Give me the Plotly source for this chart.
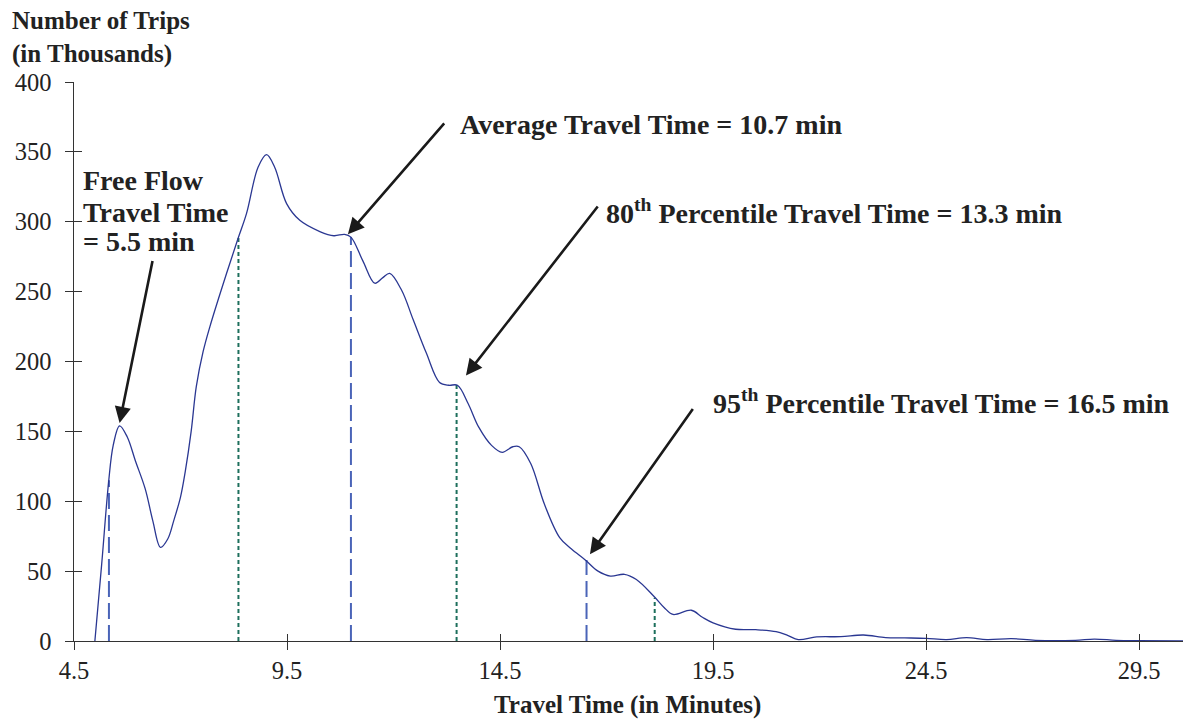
import plotly.graph_objects as go

# ---- data ----
travel_time = [4.99, 5.15, 5.31, 5.42, 5.57, 5.75, 5.94, 6.17, 6.35, 6.53, 6.7, 6.84, 7.0, 7.11,
               7.25, 7.37, 7.53, 7.69, 8.08, 8.35, 8.55, 8.82, 9.02, 9.21, 9.49, 9.8, 10.27,
               10.6, 10.85, 11.0, 11.28, 11.56, 11.75, 11.91, 12.19, 12.46, 12.77, 13.08, 13.3,
               13.5, 13.75, 14.0, 14.3, 14.55, 14.8, 14.95, 15.22, 15.54, 15.9, 16.17, 16.5,
               16.8, 17.09, 17.42, 17.7, 18.11, 18.35, 18.56, 18.99, 19.25, 19.5, 20.03, 20.5,
               20.98, 21.25, 21.5, 21.93, 22.5, 23.03, 23.55, 24.0, 24.5, 24.98, 25.45, 25.93,
               26.5, 27.07, 28.0, 28.45, 28.96, 29.5, 30.53]
trips = [0, 55, 113, 140, 154, 146, 129, 109, 86, 67, 73, 86, 103, 121,
         150, 182, 207, 225, 263, 288, 306, 339, 348, 339, 313, 301, 293,
         290, 291, 289, 272, 256, 260, 263, 251, 230, 206, 185, 183,
         183, 170, 153, 140, 135, 139, 139, 127, 98, 74, 66, 58,
         50, 46.5, 47.7, 44, 32, 24, 19, 22, 17, 13, 8.4, 8.1,
         6.7, 4, 1, 2.9, 3.1, 4.3, 2.4, 2.2, 1.9, 1, 2.4, 1,
         1.7, 0.5, 0.5, 1.4, 0.5, 0.2, 0]

blue_marker_x = [5.32, 11.0, 16.53]
blue_marker_top = [115, 289, 58]
green_marker_x = [8.36, 13.48, 18.13]
green_marker_top = [289, 184, 31]

x_ticks = [4.5, 9.5, 14.5, 19.5, 24.5, 29.5]
x_tick_labels = ["4.5", "9.5", "14.5", "19.5", "24.5", "29.5"]
y_ticks = [0, 50, 100, 150, 200, 250, 300, 350, 400]

# arrows: (tip x, tip y, tail x, tail y)
arrow_tip_x = [5.57, 10.93, 13.7, 16.61]
arrow_tip_y = [156, 291, 190, 62]
arrow_tail_x = [6.35, 13.22, 16.82, 19.05]
arrow_tail_y = [273, 371.5, 312, 167]

labels = ["<b>Average Travel Time = 10.7 min</b>",
          "<b>80<sup>th</sup> Percentile Travel Time = 13.3 min</b>",
          "<b>95<sup>th</sup> Percentile Travel Time = 16.5 min</b>"]
label_x = [13.507, 16.94, 19.46]
label_y = [369.9, 307.2, 171.1]
free_flow_lines = ["<b>Free Flow</b>", "<b>Travel Time</b>", "<b>= 5.5 min</b>"]
free_flow_y = [329.8, 306.3, 285.6]

X_RANGE = [4.5, 30.53]
Y_RANGE = [0, 400]
FONT = "Liberation Serif"

fig = go.Figure()

def vlines(xs, tops):
    xx, yy = [], []
    for x, t in zip(xs, tops):
        xx += [x, x, None]
        yy += [0, t, None]
    return xx, yy

bx, by = vlines(blue_marker_x, blue_marker_top)
gx, gy = vlines(green_marker_x, green_marker_top)
fig.add_trace(go.Scatter(x=bx, y=by, mode="lines", showlegend=False, hoverinfo="skip",
                         line=dict(color="#4a64b8", width=2, dash="16px,6px")))
fig.add_trace(go.Scatter(x=gx, y=gy, mode="lines", showlegend=False, hoverinfo="skip",
                         line=dict(color="#1d6f5c", width=2, dash="4px,3px")))
fig.add_trace(go.Scatter(x=travel_time, y=trips, mode="lines", showlegend=False,
                         line=dict(color="#2a3792", width=1.3, shape="spline", smoothing=1.0)))
# helper trace for the overlay axes that give crossing tick marks
fig.add_trace(go.Scatter(x=[None], y=[None], xaxis="x2", yaxis="y2", showlegend=False,
                         hoverinfo="skip"))

annotations = []
for tx, ty, ax, ay in zip(arrow_tip_x, arrow_tip_y, arrow_tail_x, arrow_tail_y):
    annotations.append(dict(x=tx, y=ty, ax=ax, ay=ay, xref="x", yref="y", axref="x", ayref="y",
                            text="", showarrow=True, arrowhead=2, arrowsize=1.25,
                            arrowwidth=2.6, arrowcolor="#1a1a1a", standoff=0))
for t, x, y in zip(labels, label_x, label_y):
    annotations.append(dict(x=x, y=y, xref="x", yref="y", text=t, showarrow=False,
                            xanchor="left", yanchor="middle",
                            font=dict(family=FONT, size=28, color="#222")))
for t, y in zip(free_flow_lines, free_flow_y):
    annotations.append(dict(x=4.657, y=y, xref="x", yref="y", text=t, showarrow=False,
                            xanchor="left", yanchor="middle",
                            font=dict(family=FONT, size=28, color="#222")))
# axis titles (paper coordinates)
annotations.append(dict(x=-0.0575, y=1.0800, xref="paper", yref="paper",
                        text="<b>Number of Trips</b><br><b>(in Thousands)</b>",
                        showarrow=False, xanchor="left", yanchor="middle", align="left",
                        font=dict(family=FONT, size=25, color="#222")))
annotations.append(dict(x=0.4993, y=-0.1143, xref="paper", yref="paper",
                        text="<b>Travel Time (in Minutes)</b>",
                        showarrow=False, xanchor="center", yanchor="middle",
                        font=dict(family=FONT, size=25, color="#222")))

axis_common = dict(showgrid=False, zeroline=False, linecolor="#333", linewidth=1.3,
                   tickcolor="#333", tickwidth=1.3, ticklen=7.5)

fig.update_layout(
    width=1185, height=721,
    margin=dict(l=74.3, r=1.7, t=81.7, b=80.3, autoexpand=False),
    paper_bgcolor="white", plot_bgcolor="white",
    font=dict(family=FONT, color="#222"),
    xaxis=dict(range=X_RANGE, tickvals=x_ticks, ticktext=x_tick_labels, showline=True,
               ticks="outside", tickfont=dict(family=FONT, size=24.5, color="#222"),
               ticklabelstandoff=0, **axis_common),
    yaxis=dict(range=Y_RANGE, tickvals=y_ticks, showline=True, ticks="outside",
               tickfont=dict(family=FONT, size=24.5, color="#222"),
               ticklabelstandoff=9, **axis_common),
    xaxis2=dict(range=X_RANGE, tickvals=x_ticks, overlaying="x", anchor="y2", side="bottom",
                showline=False, ticks="inside", showticklabels=False, **axis_common),
    yaxis2=dict(range=Y_RANGE, tickvals=y_ticks, overlaying="y", anchor="x2", side="left",
                showline=False, ticks="inside", showticklabels=False, **axis_common),
    annotations=annotations,
    showlegend=False,
)

fig.write_html("out.html", config={"displayModeBar": False},
               post_script="document.body.style.margin='0px';")
